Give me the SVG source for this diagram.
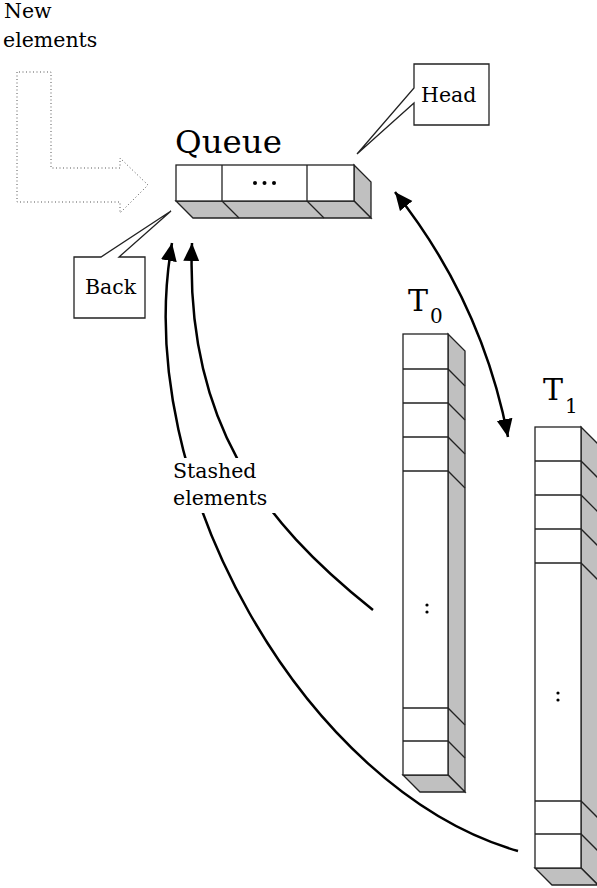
<svg xmlns="http://www.w3.org/2000/svg" width="597" height="888" viewBox="0 0 597 888">
<style>
.t{font-family:"DejaVu Serif","Liberation Serif",serif;fill:#000}
.f{fill:#fff;stroke:#222;stroke-width:1.3}
.s{fill:#c0c0c0;stroke:#222;stroke-width:1.3}
.d{stroke:#222;stroke-width:1.3;fill:none}
.c{fill:none;stroke:#000;stroke-width:2.5}
.dot{fill:#000}
</style>
<defs>
<marker id="ah" markerUnits="userSpaceOnUse" markerWidth="20" markerHeight="18" refX="18" refY="8" orient="auto-start-reverse">
<path d="M0,0 L18,8 L0,16 z" fill="#000"/>
</marker>
</defs>
<rect width="597" height="888" fill="#fff"/>

<g id="connectors">
<polygon points="17,72 17,202 120,202 120,213 148,185 120,158 120,168 51,168 51,72" fill="none" stroke="#555" stroke-width="1" stroke-dasharray="1 2.5"/>
<path class="c" d="M395,192 A567,567 0 0 1 508,437" marker-start="url(#ah)" marker-end="url(#ah)"/>
<path class="c" d="M518,851 C305,790 130,480 172,243" marker-end="url(#ah)"/>
<path class="c" d="M373,610 C260,520 185,420 192,243" marker-end="url(#ah)"/>
</g>

<g id="new-elements-label">
<text class="t" x="4" y="18" font-size="20.5">New</text>
<text class="t" x="3" y="47" font-size="20.5">elements</text>
</g>

<g id="stashed-label">
<rect x="165" y="458" width="110" height="55" fill="#fff"/>
<text class="t" x="173" y="478" font-size="20.5">Stashed</text>
<text class="t" x="173" y="505" font-size="20.5">elements</text>
</g>

<g id="queue">
<text class="t" x="175" y="153" font-size="32.5">Queue</text>
<polygon class="s" points="354,165 371,182 371,218 354,201"/>
<polygon class="s" points="176,201 193,218 371,218 354,201"/>
<line class="d" x1="222" y1="201" x2="239" y2="218"/>
<line class="d" x1="307" y1="201" x2="324" y2="218"/>
<rect class="f" x="176" y="165" width="178" height="36"/>
<line class="d" x1="222" y1="165" x2="222" y2="201"/>
<line class="d" x1="307" y1="165" x2="307" y2="201"/>
<circle class="dot" cx="255" cy="183" r="2"/>
<circle class="dot" cx="264.5" cy="183" r="2"/>
<circle class="dot" cx="274" cy="183" r="2"/>
</g>

<g id="head">
<polygon class="f" points="414,64 489,64 489,125 414,125 414,103 357,154 414,88"/>
<text class="t" x="421" y="102" font-size="20.5">Head</text>
</g>

<g id="back">
<polygon class="f" points="74,257 101,257 171,211 119,257 145,257 145,318 74,318"/>
<text class="t" x="85" y="294" font-size="20.5">Back</text>
</g>

<g id="t0">
<text class="t" x="408" y="311" font-size="30">T</text>
<text class="t" x="430" y="323" font-size="20">0</text>
<polygon class="s" points="448,334 465,351 465,792 448,775"/>
<polygon class="s" points="403,775 420,792 465,792 448,775"/>
<rect class="f" x="403" y="334" width="45" height="441"/>
<path class="d" d="M403,369 H448 L465,386 M403,403 H448 L465,420 M403,437 H448 L465,454 M403,471 H448 L465,488 M403,708 H448 L465,725 M403,741 H448 L465,758"/>
<circle class="dot" cx="427" cy="605" r="1.6"/>
<circle class="dot" cx="427" cy="612" r="1.6"/>
</g>

<g id="t1">
<text class="t" x="543" y="400" font-size="30">T</text>
<text class="t" x="565" y="413" font-size="20">1</text>
<polygon class="s" points="581,427 598,444 598,885 581,868"/>
<polygon class="s" points="535,868 552,885 598,885 581,868"/>
<rect class="f" x="535" y="427" width="46" height="441"/>
<path class="d" d="M535,461 H581 L598,478 M535,495 H581 L598,512 M535,529 H581 L598,546 M535,563 H581 L598,580 M535,801 H581 L598,818 M535,834 H581 L598,851"/>
<circle class="dot" cx="558" cy="693" r="1.6"/>
<circle class="dot" cx="558" cy="700" r="1.6"/>
</g>
</svg>
